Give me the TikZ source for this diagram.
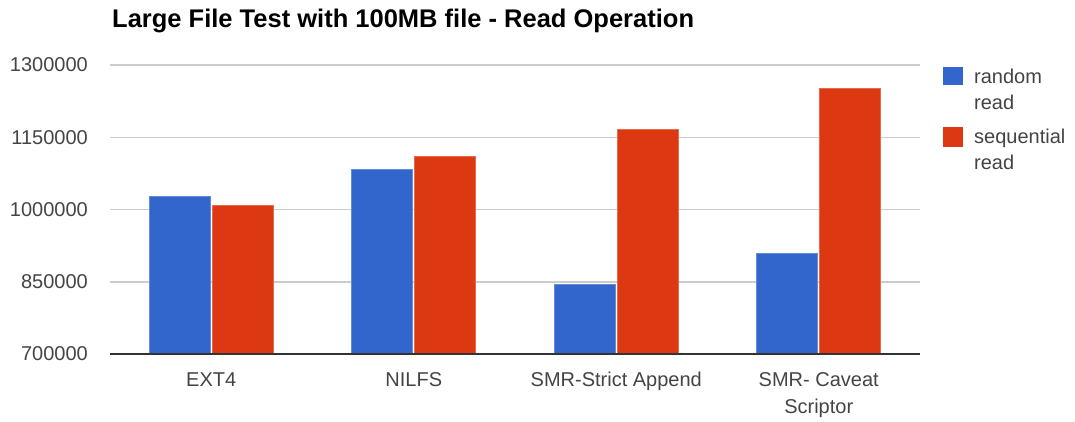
\documentclass[tikz,border=0pt]{standalone}
\usepackage{fontspec}
\setmainfont{Liberation Sans}
\definecolor{serA}{HTML}{3366CC}
\definecolor{serB}{HTML}{DC3912}
\definecolor{gridc}{HTML}{CCCCCC}
\definecolor{axisc}{HTML}{333333}
\definecolor{labc}{HTML}{444444}
% text lines stacked downward from the baseline of the first one
\newcommand{\stackc}[1]{\setlength{\tabcolsep}{0pt}\begin{tabular}[t]{c}#1\end{tabular}}
\newcommand{\stackl}[1]{\setlength{\tabcolsep}{0pt}\begin{tabular}[t]{l}#1\end{tabular}}
\begin{document}
\begin{tikzpicture}[x=1pt,y=-1pt,
  declare function={py(\v)=354-(\v-700)/600*289;},
  gridline/.style={draw=gridc,line width=1.5pt},
  baseline axis/.style={draw=axisc,line width=1.5pt},
  lab/.style={text=labc,font=\fontsize{20}{26.5}\selectfont,inner sep=0pt},
  ticklab/.style={lab,anchor=east},
  catlab/.style={lab,anchor=base},
  legtext/.style={lab,anchor=base west},
  barA/.style={fill=serA,draw=serA!75!white,line width=0.6pt},
  barB/.style={fill=serB,draw=serB!75!white,line width=0.6pt},
  title/.style={anchor=base west,inner sep=0pt,font=\fontsize{25.5}{30}\selectfont\bfseries}]
\useasboundingbox (0,0) rectangle (1075,421);

% title
\node[title] (ttl) at (112,27.5) {Large File Test with 100MB file - Read Operation};

% horizontal grid and tick labels
\foreach \v in {850,1000,1150,1300}{
  \draw[gridline] (110,{py(\v)}) -- (920,{py(\v)});
}
\foreach \v/\t in {700/700000,850/850000,1000/1000000,1150/1150000,1300/1300000}{
  \node[ticklab] (tick\v) at (88,{py(\v)}) {\t};
}

% bars: group centre, random read, sequential read (thousands)
\foreach \c/\a/\b in {211.25/1026.6/1009.3,413.75/1083.5/1111.0,616.25/844.7/1166.7,818.75/909.0/1251.2}{
  \draw[barA] (\c-62,{py(\a)}) rectangle (\c-1,354);
  \draw[barB] (\c+1,{py(\b)}) rectangle (\c+62,354);
}

% baseline
\draw[baseline axis] (110,354) -- (920,354);

% category labels
\node[catlab] (c1) at (211.25,386.5) {EXT4};
\node[catlab] (c2) at (413.75,386.5) {NILFS};
\node[catlab] (c3) at (616.25,386.5) {SMR-Strict Append};
\node[catlab] (c4) at (818.75,386.5) {\stackc{SMR- Caveat\\Scriptor}};

% legend
\fill[serA] (943,66.7) rectangle (963,85);
\fill[serB] (943,126.7) rectangle (963,146.7);
\node[legtext] (l1) at (974,83.3) {\stackl{random\\read}};
\node[legtext] (l2) at (974,143.3) {\stackl{sequential\\read}};
\end{tikzpicture}
\end{document}
